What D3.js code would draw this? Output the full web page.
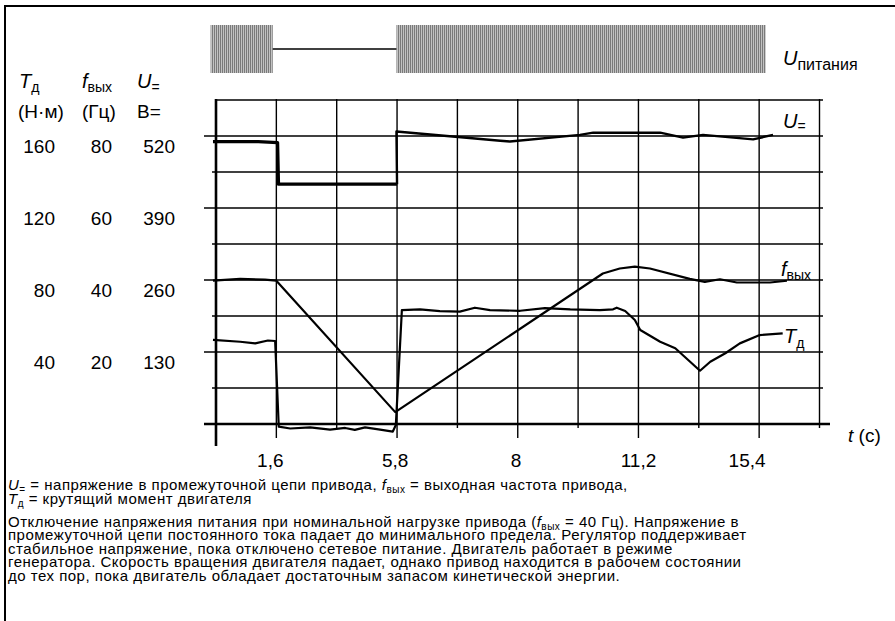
<!DOCTYPE html>
<html>
<head>
<meta charset="utf-8">
<script src="https://cdn.jsdelivr.net/npm/d3@7"></script>
<style>
  body { margin: 0; background: #fff; }
  svg { display: block; font-family: "Liberation Sans", Arial, sans-serif; }
</style>
</head>
<body>
<div id="chart"></div>
<script>
// time axis is drawn in grid divisions (0..10), labels give the seconds
var tGrid = d3.range(0, 11);
var tTickPos = [0.9, 2.97, 4.97, 7, 8.8];
var tTickLabels = ["1,6", "5,8", "8", "11,2", "15,4"];

var torqueTicks = [160, 120, 80, 40];
var freqTicks = [80, 60, 40, 20];
var voltTicks = [520, 390, 260, 130];

// supply voltage: [start, end] in grid divisions
var supplyOn = [[-0.09, 0.94], [2.99, 9.11]];
var supplyOff = [[0.94, 2.99]];

// DC link voltage (V)
var udcSag = [[-0.05, 510], [0.70, 510], [1.02, 508], [1.035, 433], [3.0, 433]];
var udcBack = [[3.0, 433], [2.99, 528], [4.71, 511.5], [4.87, 510], [6.03, 522], [6.25, 526],
               [7.36, 526], [7.74, 517], [8.07, 522], [8.90, 514], [9.23, 522]];

// output frequency (Hz)
var fout = [[-0.05, 39.8], [0.40, 40.3], [0.81, 40.1], [1.0, 39.8], [2.97, 3.3], [6.41, 41.8],
            [6.69, 43.2], [6.94, 43.7], [7.19, 43.2], [7.85, 40.3], [8.10, 39.5], [8.35, 40.2],
            [8.63, 39.3], [9.18, 39.3], [9.46, 39.8]];

// motor torque (Nm)
var torque = [[-0.05, 46.7], [0.40, 45.7], [0.65, 44.8], [0.86, 46.4], [0.98, 46.1],
              [1.04, -1.5], [1.23, -2.5], [1.56, -1.9], [1.89, -3.1], [2.14, -2.2], [2.30, -3.3],
              [2.47, -1.9], [2.72, -3.1], [2.93, -4.2], [2.98, -0.6], [3.08, 63.3], [3.38, 63.7],
              [3.71, 62.7], [4.04, 62.4], [4.29, 64.6], [4.54, 63.3], [5.04, 62.9], [5.45, 64.4],
              [5.87, 63.7], [6.36, 63.3], [6.58, 63.7], [6.64, 64.6], [6.78, 62.8], [6.94, 57.8],
              [7.03, 52.2], [7.36, 45.7], [7.61, 42.1], [8.02, 29.6], [8.19, 34.6], [8.44, 39.3],
              [8.68, 44.8], [9.01, 49.4], [9.39, 50.4]];

var W = 895, H = 621;

var svg = d3.select("#chart").append("svg")
    .attr("width", W)
    .attr("height", H);

var x = d3.scaleLinear().domain([0, 10]).range([216, 819.5]);
var yT = d3.scaleLinear().domain([0, 160]).range([424, 136]);
var yF = d3.scaleLinear().domain([0, 80]).range([424, 136]);
var yU = d3.scaleLinear().domain([0, 520]).range([424, 136]);

// frame
svg.append("path")
    .attr("d", "M5," + H + "V6H" + W)
    .attr("fill", "none")
    .attr("stroke", "#000")
    .attr("stroke-width", 2);

// hatch for the AC supply
var defs = svg.append("defs");
var pat = defs.append("pattern")
    .attr("id", "ac")
    .attr("patternUnits", "userSpaceOnUse")
    .attr("width", 2).attr("height", 60);
pat.append("rect").attr("width", 2).attr("height", 60).attr("fill", "#c2c2c2");
pat.append("rect").attr("width", 1).attr("height", 60).attr("fill", "#7a7a7a");

var supTop = 25, supBot = 73;
svg.selectAll(".sup-on").data(supplyOn).enter().append("rect")
    .attr("x", function(d) { return x(d[0]); })
    .attr("y", supTop)
    .attr("width", function(d) { return x(d[1]) - x(d[0]); })
    .attr("height", supBot - supTop)
    .attr("fill", "url(#ac)");
svg.selectAll(".sup-off").data(supplyOff).enter().append("line")
    .attr("x1", function(d) { return x(d[0]); })
    .attr("x2", function(d) { return x(d[1]); })
    .attr("y1", 49).attr("y2", 49)
    .attr("stroke", "#000").attr("stroke-width", 1.5);

// supply label
var ls = svg.append("text").attr("x", 783).attr("y", 65).attr("font-size", 20);
ls.append("tspan").attr("font-style", "italic").text("U");
ls.append("tspan").attr("font-size", 16).attr("dy", 5).text("питания");

// grid
var gridVals = d3.range(0, 181, 20);
svg.selectAll(".hgrid").data(gridVals.filter(function(v) { return v > 0; })).enter().append("line")
    .attr("x1", function(v) { return v === 180 ? 216 : (v % 40 === 0 ? 204 : 212); })
    .attr("x2", 823)
    .attr("y1", function(v) { return yT(v); })
    .attr("y2", function(v) { return yT(v); })
    .attr("stroke", "#000").attr("stroke-width", 1.4);

svg.selectAll(".vgrid").data(tGrid.filter(function(d) { return d > 0; })).enter().append("line")
    .attr("x1", function(d) { return x(d); })
    .attr("x2", function(d) { return x(d); })
    .attr("y1", 99)
    .attr("y2", function(d) { return d % 2 === 1 ? 438 : 428; })
    .attr("stroke", "#000").attr("stroke-width", 1.4);

// axes
svg.append("line")
    .attr("x1", 204).attr("x2", 830)
    .attr("y1", yT(0)).attr("y2", yT(0))
    .attr("stroke", "#000").attr("stroke-width", 2.6);
svg.append("line")
    .attr("x1", x(0)).attr("x2", x(0))
    .attr("y1", 99).attr("y2", 446)
    .attr("stroke", "#000").attr("stroke-width", 2.6);

// time tick labels
svg.selectAll(".tlab").data(tTickLabels).enter().append("text")
    .attr("x", function(d, i) { return x(tTickPos[i]); })
    .attr("y", 467)
    .attr("text-anchor", "middle")
    .attr("font-size", 19)
    .text(function(d) { return d; });

var tl = svg.append("text").attr("x", 848).attr("y", 442).attr("font-size", 19);
tl.append("tspan").attr("font-style", "italic").text("t");
tl.append("tspan").text(" (с)");

// left value columns
function colHead(xp, main, sub) {
    var t = svg.append("text").attr("x", xp).attr("y", 88).attr("font-size", 20);
    t.append("tspan").attr("font-style", "italic").text(main);
    t.append("tspan").attr("font-size", 14).attr("dy", 4).text(sub);
}
colHead(19, "T", "д");
colHead(82, "f", "вых");
colHead(137, "U", "=");

svg.append("text").attr("x", 18).attr("y", 118).attr("font-size", 19).text("(Н·м)");
svg.append("text").attr("x", 82).attr("y", 118).attr("font-size", 19).text("(Гц)");
svg.append("text").attr("x", 137).attr("y", 118).attr("font-size", 19).text("В=");

svg.selectAll(".tt").data(torqueTicks).enter().append("text")
    .attr("x", 55).attr("y", function(d) { return yT(d) + 17; })
    .attr("text-anchor", "end").attr("font-size", 19)
    .text(function(d) { return d; });
svg.selectAll(".ft").data(freqTicks).enter().append("text")
    .attr("x", 112).attr("y", function(d) { return yF(d) + 17; })
    .attr("text-anchor", "end").attr("font-size", 19)
    .text(function(d) { return d; });
svg.selectAll(".ut").data(voltTicks).enter().append("text")
    .attr("x", 175).attr("y", function(d) { return yU(d) + 17; })
    .attr("text-anchor", "end").attr("font-size", 19)
    .text(function(d) { return d; });

// curves
function lineFor(ys) {
    return d3.line()
        .x(function(d) { return x(d[0]); })
        .y(function(d) { return ys(d[1]); });
}

svg.append("path").datum(udcSag)
    .attr("d", lineFor(yU))
    .attr("fill", "none").attr("stroke", "#000").attr("stroke-width", 3.3)
    .attr("stroke-linejoin", "round");
svg.append("path").datum(udcBack)
    .attr("d", lineFor(yU))
    .attr("fill", "none").attr("stroke", "#000").attr("stroke-width", 2.4)
    .attr("stroke-linejoin", "round");

svg.append("path").datum(fout)
    .attr("d", lineFor(yF))
    .attr("fill", "none").attr("stroke", "#000").attr("stroke-width", 2.2)
    .attr("stroke-linejoin", "round");

svg.append("path").datum(torque)
    .attr("d", lineFor(yT))
    .attr("fill", "none").attr("stroke", "#000").attr("stroke-width", 2.2)
    .attr("stroke-linejoin", "round");

// curve labels
var lu = svg.append("text").attr("x", 783).attr("y", 128).attr("font-size", 20);
lu.append("tspan").attr("font-style", "italic").text("U");
lu.append("tspan").attr("font-size", 14).attr("dy", 3).text("=");

var lf = svg.append("text").attr("x", 781).attr("y", 276).attr("font-size", 20);
lf.append("tspan").attr("font-style", "italic").text("f");
lf.append("tspan").attr("font-size", 14).attr("dy", 4).text("вых");

var lt = svg.append("text").attr("x", 784).attr("y", 343).attr("font-size", 20);
lt.append("tspan").attr("font-style", "italic").text("T");
lt.append("tspan").attr("font-size", 14).attr("dy", 5).text("д");

// caption
var capSize = 15, capSpace = 0.5, capLead = 13.6;
var c1 = svg.append("text").attr("x", 8).attr("y", 490).attr("font-size", capSize).attr("letter-spacing", capSpace);
c1.append("tspan").attr("font-style", "italic").text("U");
c1.append("tspan").attr("font-size", 10).attr("dy", 3).text("=");
c1.append("tspan").attr("dy", -3).text(" = напряжение в промежуточной цепи привода, ");
c1.append("tspan").attr("font-style", "italic").text("f");
c1.append("tspan").attr("font-size", 10).attr("dy", 3).text("вых");
c1.append("tspan").attr("dy", -3).text(" = выходная частота привода,");

var c2 = svg.append("text").attr("x", 8).attr("y", 490 + capLead).attr("font-size", capSize).attr("letter-spacing", capSpace);
c2.append("tspan").attr("font-style", "italic").text("T");
c2.append("tspan").attr("font-size", 10).attr("dy", 3).text("д");
c2.append("tspan").attr("dy", -3).text(" = крутящий момент двигателя");

var c3 = svg.append("text").attr("x", 8).attr("y", 526.5).attr("font-size", capSize).attr("letter-spacing", capSpace);
c3.append("tspan").text("Отключение напряжения питания при номинальной нагрузке привода (");
c3.append("tspan").attr("font-style", "italic").text("f");
c3.append("tspan").attr("font-size", 10).attr("dy", 3).text("вых");
c3.append("tspan").attr("dy", -3).text(" = 40 Гц). Напряжение в");

var paraLines = [
    "промежуточной цепи постоянного тока падает до минимального предела. Регулятор поддерживает",
    "стабильное напряжение, пока отключено сетевое питание. Двигатель работает в режиме",
    "генератора. Скорость вращения двигателя падает, однако привод находится в рабочем состоянии",
    "до тех пор, пока двигатель обладает достаточным запасом кинетической энергии."
];
svg.selectAll(".para").data(paraLines).enter().append("text")
    .attr("x", 8)
    .attr("y", function(d, i) { return 526.5 + (i + 1) * capLead; })
    .attr("font-size", capSize)
    .attr("letter-spacing", capSpace)
    .text(function(d) { return d; });
</script>
</body>
</html>
